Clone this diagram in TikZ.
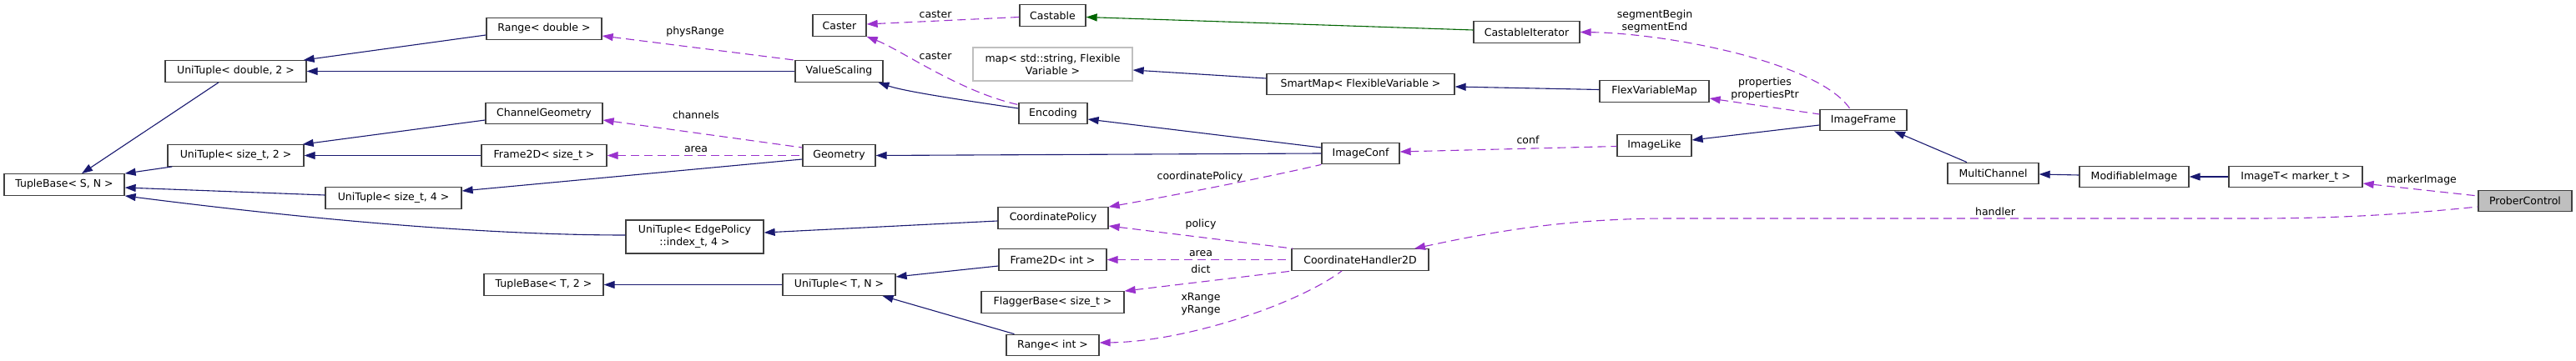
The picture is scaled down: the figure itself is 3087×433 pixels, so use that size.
\documentclass[tikz,border=0pt]{standalone}
\usepackage{fontspec}
\setmainfont{DejaVu Sans}
\usetikzlibrary{arrows.meta,calc}
\definecolor{navy}{HTML}{191970}
\definecolor{orch}{HTML}{9A32CD}
\definecolor{dgreen}{HTML}{006400}
\definecolor{boxborder}{HTML}{404040}
\definecolor{lgray}{HTML}{BFBFBF}
\begin{document}
\begin{tikzpicture}[x=1pt,y=-1pt,
  font=\fontsize{12.5}{15}\selectfont,
  cls/.style={draw=boxborder, line width=1.3pt, fill=white, inner sep=0pt,
    minimum height=25.5pt, minimum width=#1pt, align=center},
  cls2/.style={cls=#1, minimum height=40pt},
  lbl/.style={inner sep=0pt, align=center},
  inh/.style={draw=navy, line width=1.1pt, {Triangle[length=13pt,width=9pt]}-},
  inhg/.style={draw=dgreen, line width=1.1pt, {Triangle[length=13pt,width=9pt]}-},
  use/.style={draw=orch, line width=1.1pt, dash pattern=on 10pt off 6pt,
    {Triangle[length=13pt,width=9pt]}-}]
\useasboundingbox (0,0) rectangle (3087,433);

% nodes
\node[cls=144] (tbSN) at (77,221.5) {TupleBase< S, N >};
\node[cls=169] (utD2) at (282.5,85.5) {UniTuple< double, 2 >};
\node[cls=163] (utS2) at (282.5,186.5) {UniTuple< size\_t, 2 >};
\node[cls=163] (utS4) at (471.5,237.5) {UniTuple< size\_t, 4 >};
\node[cls=138] (rangeD) at (652,34.5) {Range< double >};
\node[cls=140] (chanGeo) at (652,136) {ChannelGeometry};
\node[cls=150] (frS) at (652,186.5) {Frame2D< size\_t >};
\node[cls2=165] (utEP) at (832.5,284) {UniTuple< EdgePolicy\\::index\_t, 4 >};
\node[cls=143] (tbT2) at (651.5,341.5) {TupleBase< T, 2 >};
\node[cls=64] (caster) at (1006,30.5) {Caster};
\node[cls=105] (valSc) at (1005.5,85.5) {ValueScaling};
\node[cls=87] (geom) at (1005.5,186.5) {Geometry};
\node[cls=135] (utTN) at (1005.5,341.5) {UniTuple< T, N >};
\node[cls=79] (castable) at (1261.5,18.5) {Castable};
\node[cls2=191, draw=lgray] (map) at (1261.5,77) {map< std::string, Flexible\\Variable >};
\node[cls=82] (enc) at (1262,136) {Encoding};
\node[cls=132] (coordPol) at (1262,261.5) {CoordinatePolicy};
\node[cls=129] (frI) at (1261.5,311.5) {Frame2D< int >};
\node[cls=171] (flag) at (1261.5,362.5) {FlaggerBase< size\_t >};
\node[cls=111] (rangeI) at (1261.5,414) {Range< int >};
\node[cls=225] (smart) at (1630.5,101) {SmartMap< FlexibleVariable >};
\node[cls=93] (imConf) at (1630.5,184) {ImageConf};
\node[cls=164] (ch2d) at (1630,311.5) {CoordinateHandler2D};
\node[cls=127] (castIt) at (1829.5,38.5) {CastableIterator};
\node[cls=131] (flexMap) at (1982.5,109.5) {FlexVariableMap};
\node[cls=89] (imLike) at (1982.5,174.5) {ImageLike};
\node[cls=104] (imFrame) at (2233,144) {ImageFrame};
\node[cls=109] (multi) at (2388.5,208) {MultiChannel};
\node[cls=131] (modIm) at (2557.5,212) {ModifiableImage};
\node[cls=160] (imT) at (2751,212) {ImageT< marker\_t >};
\node[cls=112, fill=lgray] (prober) at (3026,241) {ProberControl};

% inheritance edges
\draw[inh] ([xshift=21pt]tbSN.north) -- ([xshift=-20.5pt]utD2.south);
\draw[inh] (tbSN.north east) -- ([xshift=6pt]utS2.south west);
\draw[inh] ([yshift=-3.5pt]tbSN.east) -- ([yshift=3.5pt]utS4.west);
\draw[inh] (tbSN.south east) .. controls (330,258) and (560,282) .. ([yshift=2pt]utEP.west);
\draw[inh] ([xshift=-4pt]utD2.north east) -- ([yshift=-7.5pt]rangeD.west);
\draw[inh] (utD2.east) -- (valSc.west);
\draw[inh] ([xshift=-2pt]utS2.north east) -- ([yshift=-8pt]chanGeo.west);
\draw[inh] (utS2.east) -- (frS.west);
\draw[inh] ([yshift=8.5pt]utS4.east) -- ([yshift=-4.5pt]geom.west);
\draw[inh] (tbT2.east) -- (utTN.west);
\draw[inh] ([yshift=5pt]utEP.east) -- ([yshift=-3.5pt]coordPol.west);
\draw[inh] ([yshift=9.5pt]utTN.east) -- ([yshift=-7.5pt]frI.west);
\draw[inh] ([xshift=52pt]utTN.south) -- ([xshift=-46pt]rangeI.north);
\draw[inh] ([xshift=47pt]valSc.south) .. controls (1085,110) and (1160,121) .. ([yshift=6pt]enc.west);
\draw[inh] ([yshift=-7pt]enc.east) -- ([yshift=7pt]imConf.west);
\draw[inh] (geom.east) -- (imConf.west);
\draw[inhg] ([yshift=-2pt]castable.east) -- ([yshift=2.5pt]castIt.west);
\draw[inh] ([yshift=-7pt]map.east) -- ([yshift=7pt]smart.west);
\draw[inh] ([yshift=-3pt]smart.east) -- ([yshift=2pt]flexMap.west);
\draw[inh] ([yshift=6.5pt]imLike.east) -- ([yshift=-6pt]imFrame.west);
\draw[inh] ([xshift=37pt]imFrame.south) -- ([xshift=-31.5pt]multi.north);
\draw[inh] ([yshift=-1pt]multi.east) -- ([yshift=2pt]modIm.west);
\draw[inh] (modIm.east) -- (imT.west);

% usage edges
\draw[use] ([yshift=-8.5pt]rangeD.east) -- (valSc.north west);
\draw[use] ([yshift=-8pt]chanGeo.east) -- ([yshift=9.5pt]geom.west);
\draw[use] (frS.east) -- (geom.west);
\draw[use] ([yshift=1.5pt]caster.east) -- ([yshift=-2pt]castable.west);
\draw[use] (caster.south east) .. controls (1080,60) and (1150,110) .. ([yshift=-3pt]enc.north west);
\draw[use] ([yshift=2pt]imConf.east) -- ([yshift=-1pt]imLike.west);
\draw[use] (coordPol.north east) .. controls (1420,232) and (1530,210) .. (imConf.south west);
\draw[use] ([yshift=-9.5pt]coordPol.east) -- ([xshift=2pt]ch2d.north west);
\draw[use] (frI.east) -- (ch2d.west);
\draw[use] (flag.north east) -- ([xshift=2pt]ch2d.south west);
\draw[use] ([yshift=3pt]rangeI.east) .. controls (1420,410) and (1555,365) .. ([xshift=-22pt]ch2d.south);
\draw[use] (castIt.east) .. controls (2000,40) and (2180,75) .. ([xshift=-16pt]imFrame.north);
\draw[use] ([yshift=-8.5pt]flexMap.east) -- ([yshift=7pt]imFrame.west);
\draw[use] ([yshift=-8pt]imT.east) -- ([yshift=6pt]prober.west);
\draw[use] ([xshift=65pt]ch2d.north) .. controls (1780,280) and (1870,262) .. (2000,262)
  -- (2700,262) .. controls (2820,262) and (2900,255) .. ([yshift=-7pt]prober.west);

% edge labels
\node[lbl] (lPhys) at (833,38) {physRange};
\node[lbl] (lChan) at (834,138) {channels};
\node[lbl] (lArea1) at (834,179) {area};
\node[lbl] (lCast1) at (1121,17) {caster};
\node[lbl] (lCast2) at (1121,67) {caster};
\node[lbl] (lCoord) at (1438,212) {coordinatePolicy};
\node[lbl] (lPol) at (1439,269) {policy};
\node[lbl] (lArea2) at (1439,304) {area};
\node[lbl] (lDict) at (1439,323) {dict};
\node[lbl] (lRng) at (1439,365) {xRange\\yRange};
\node[lbl] (lConf) at (1831,168) {conf};
\node[lbl] (lSeg) at (1983,26) {segmentBegin\\segmentEnd};
\node[lbl] (lProp) at (2115,107) {properties\\propertiesPtr};
\node[lbl] (lMark) at (2902,216) {markerImage};
\node[lbl] (lHand) at (2391,254) {handler};
\end{tikzpicture}
\end{document}
